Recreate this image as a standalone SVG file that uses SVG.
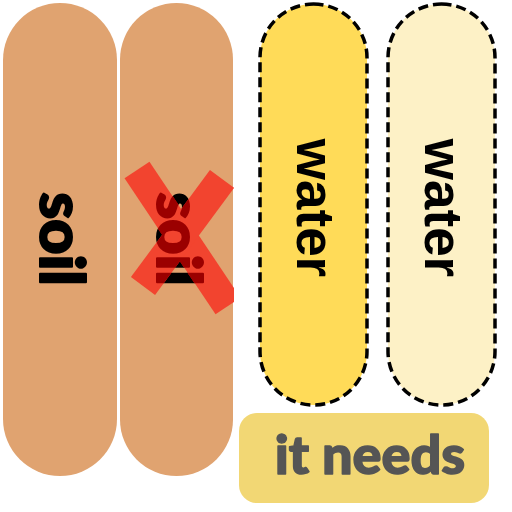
<svg xmlns="http://www.w3.org/2000/svg" xmlns:xlink="http://www.w3.org/1999/xlink" width="512" height="512" viewBox="0 0 512 512">
<style>
.soil{fill:#E0A370}
.water{stroke:#000;stroke-width:3.5;stroke-dasharray:10 5}
.lbl{font-family:Lato,"Noto Sans",sans-serif;font-weight:900;text-anchor:middle;stroke-linejoin:round}
.wl{font-family:"Liberation Sans",Arial,sans-serif;font-weight:bold;text-anchor:middle;font-size:53px}
.xs{fill:none;stroke:#F2442F;stroke-width:30;stroke-linecap:butt}
</style>
<defs>
<clipPath id="boxclip">
<rect x="120" y="3" width="114" height="473"/>
</clipPath>
<g id="xmark">
<path d="M137,170 L228,306" class="xs"/>
<path d="M222,179 L143,286" class="xs"/>
</g>
<clipPath id="xclip">
<path d="M124,178 L150,162 L241,298 L215,314 Z"/>
<path d="M210,170 L234,188 L155,295 L131,277 Z"/>
</clipPath>
</defs>
<g id="soil1">
<rect class="soil" x="3" y="3" width="114" height="473" rx="57"/>
<text class="lbl" font-size="61" stroke="#000" stroke-width="2" transform="translate(40,239) rotate(90)">soil</text>
</g>
<g id="soil2">
<rect class="soil" x="120" y="3" width="113" height="473" rx="56.5"/>
<text class="lbl" font-size="61" stroke="#000" stroke-width="2" transform="translate(157,239) rotate(90)">soil</text>
<g clip-path="url(#boxclip)">
<use xlink:href="#xmark"/>
</g>
<g clip-path="url(#xclip)">
<text class="lbl" font-size="61" fill="#9B0000" stroke="#9B0000" stroke-width="2" transform="translate(157,239) rotate(90)">soil</text>
</g>
</g>
<g id="water1">
<rect class="water" x="260" y="4" width="107" height="401" rx="53.5" fill="#FFDB58"/>
<text class="wl" transform="translate(297,208) rotate(90)">water</text>
</g>
<g id="water2">
<rect class="water" x="388" y="4" width="107" height="401" rx="53.5" fill="#FDF1C6"/>
<text class="wl" transform="translate(425,208) rotate(90)">water</text>
</g>
<g id="itneeds">
<rect x="239" y="413" width="250" height="90" rx="18" fill="#F2D774"/>
<text class="lbl" x="370" y="474" font-size="54" fill="#555555" stroke="#555555" stroke-width="1.5">it needs</text>
</g>
<g id="connectors"/>
</svg>
